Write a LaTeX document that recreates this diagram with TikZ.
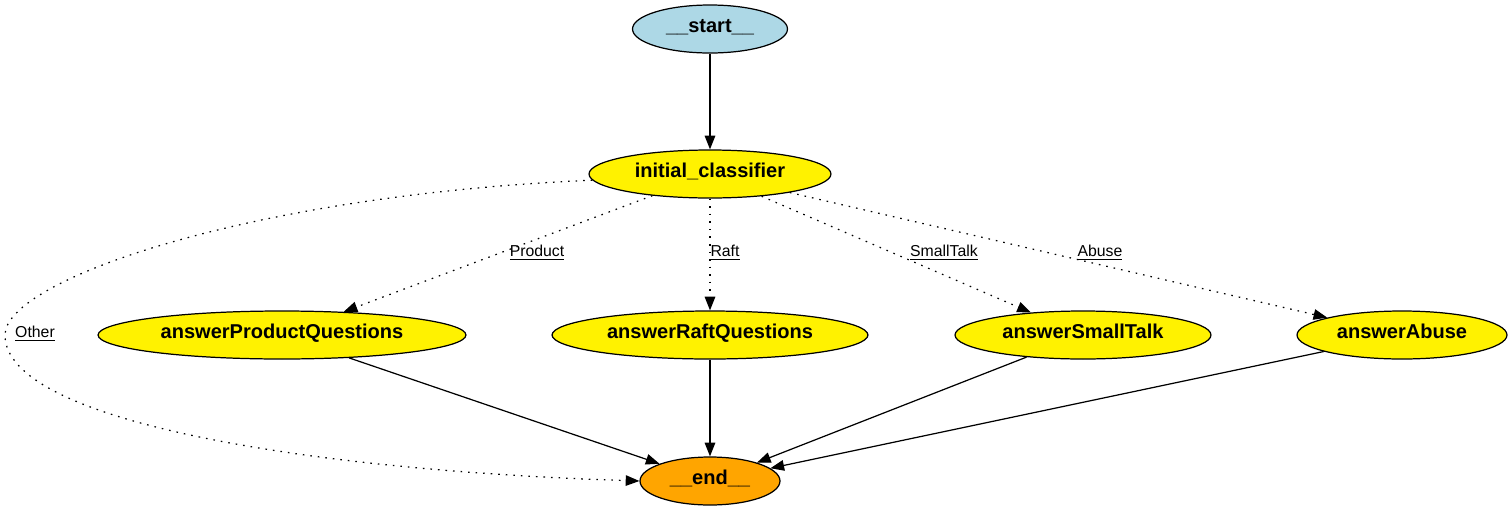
\documentclass[tikz,border=0pt]{standalone}
\usepackage{fontspec}
\setmainfont{Liberation Sans}
\usepackage{tikz}
\usetikzlibrary{shapes.geometric,arrows.meta}
\definecolor{startblue}{HTML}{ADD8E6}
\definecolor{endorange}{HTML}{FFA500}

\begin{document}
\begin{tikzpicture}[x=0.02cm,y=-0.02cm,
		state/.style={ellipse, draw=black, line width=0.7pt, fill=yellow, inner sep=0pt,
			minimum height=0.96cm, text height=1.6ex, text depth=0.9ex,
			font=\bfseries\fontsize{11.4}{14}\selectfont},
		flow/.style={line width=0.7pt, -{Triangle[length=7.8pt,width=6pt]}},
		choice/.style={flow, dash pattern=on 0.9pt off 3.4pt},
		tag/.style={font=\fontsize{9}{11}\selectfont, inner sep=0pt}]
	    \useasboundingbox (0,0) rectangle (1512,511);
	    \node[state, fill=startblue, minimum width=3.1cm] (start) at (710,29) {\_\_start\_\_};
	    \node[state, minimum width=4.84cm] (init) at (710,174) {initial\_classifier};
	    \node[state, minimum width=7.36cm] (product) at (282,335) {answerProductQuestions};
	    \node[state, minimum width=6.32cm] (raft) at (710,335) {answerRaftQuestions};
	    \node[state, minimum width=5.12cm] (small) at (1083,335) {answerSmallTalk};
	    \node[state, minimum width=4.2cm] (abuse) at (1402,335) {answerAbuse};
	    \node[state, fill=endorange, minimum width=2.8cm] (end) at (710,481) {\_\_end\_\_};
	    \draw[flow] (start) -- (init);
	    \draw[choice] (init) -- (product);
	    \draw[choice] (init) -- (raft);
	    \draw[choice] (init) -- (small);
	    \draw[choice] (init) -- (abuse);
	    \draw[choice] (init.183) .. controls (250,195) and (5,280) .. (5,335)
	        .. controls (5,420) and (300,470) .. (end.west);
	    \node[tag] (lproduct) at (537,253) {\underline{Product}};
	    \node[tag] (lraft) at (725,253) {\underline{Raft}};
	    \node[tag] (lsmall) at (944,253) {\underline{SmallTalk}};
	    \node[tag] (labuse) at (1100,253) {\underline{Abuse}};
	    \node[tag] (lother) at (35,334) {\underline{Other}};
	    \draw[flow] (product) -- (end);
	    \draw[flow] (raft) -- (end);
	    \draw[flow] (small) -- (end);
	    \draw[flow] (abuse) -- (end);
\end{tikzpicture}
\end{document}
